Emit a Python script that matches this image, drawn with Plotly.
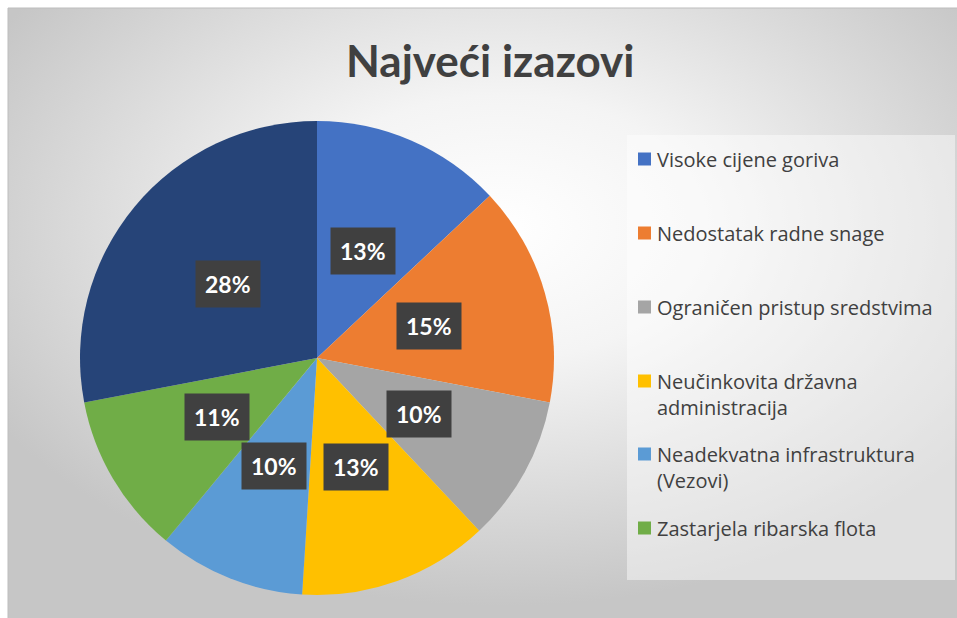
import math
import base64
import plotly.graph_objects as go

# ---- data ----
categories = [
    "Visoke cijene goriva",
    "Nedostatak radne snage",
    "Ograničen pristup sredstvima",
    "Neučinkovita državna administracija",
    "Neadekvatna infrastruktura (Vezovi)",
    "Zastarjela ribarska flota",
    "Ostalo",
]
legend_labels = [
    "Visoke cijene goriva",
    "Nedostatak radne snage",
    "Ograničen pristup sredstvima",
    "Neučinkovita državna<br>administracija",
    "Neadekvatna infrastruktura<br>(Vezovi)",
    "Zastarjela ribarska flota",
]
values = [13, 15, 10, 13, 10, 11, 28]
colors = ["#4472C4", "#ED7D31", "#A5A5A5", "#FFC000", "#5B9BD5", "#70AD47", "#264478"]
title_text = "Najveći izazovi"

W, H = 957, 618
FONT = "Lato"
LEG_FONT = "Open Sans"

# pie geometry (pixels)
cx, cy, R = 317, 358, 237
dom_x = [(cx - R) / W, (cx + R) / W]
dom_y = [1 - (cy + R) / H, 1 - (cy - R) / H]

fig = go.Figure()
fig.add_trace(go.Pie(
    labels=categories,
    values=values,
    marker=dict(colors=colors, line=dict(width=0)),
    sort=False,
    direction="clockwise",
    rotation=0,
    textinfo="none",
    hoverinfo="label+percent",
    showlegend=False,
    domain=dict(x=dom_x, y=dom_y),
))

annotations = []
shapes = []

# background gradient image
svg = (
    "<svg xmlns='http://www.w3.org/2000/svg' width='949' height='610' preserveAspectRatio='none'>"
    "<defs><radialGradient id='g' cx='52%' cy='36%' r='62%'>"
    "<stop offset='0' stop-color='#ffffff'/>"
    "<stop offset='0.35' stop-color='#f4f4f4'/>"
    "<stop offset='1' stop-color='#c6c6c6'/>"
    "</radialGradient></defs>"
    "<rect width='100%' height='100%' fill='url(#g)'/></svg>"
)
src = "data:image/svg+xml;base64," + base64.b64encode(svg.encode()).decode()
images = [dict(source=src, xref="paper", yref="paper", x=8 / W, y=1 - 8 / H,
               sizex=(W - 8) / W, sizey=(H - 8) / H, sizing="stretch",
               xanchor="left", yanchor="top", layer="below")]

# chart border
shapes.append(dict(type="rect", xref="paper", yref="paper", x0=8 / W, x1=1.01, y0=-0.01, y1=1 - 8 / H,
                   line=dict(color="#bdbdbd", width=1), fillcolor="rgba(0,0,0,0)", layer="below"))

# data labels
total = sum(values)
cum = 0
for v in values:
    mid = (cum + v / 2) / total
    cum += v
    th = 2 * math.pi * mid
    px = cx + 0.49 * R * math.sin(th)
    py = cy - 0.49 * R * math.cos(th)
    pct = f"{round(100 * v / total)}%"
    annotations.append(dict(x=px / W, y=1 - py / H, xref="paper", yref="paper",
                            xanchor="center", yanchor="middle",
                            text=f"<b>{pct}</b>", showarrow=False,
                            font=dict(family=FONT, size=23, color="white"),
                            bgcolor="#404040", borderpad=9))

# legend box
shapes.append(dict(type="rect", xref="paper", yref="paper", x0=627 / W, x1=955 / W,
                   y0=1 - 580 / H, y1=1 - 135 / H, line=dict(width=0),
                   fillcolor="rgba(255,255,255,0.45)", layer="below"))

legend_rows = [159, 233, 307, 381, 454, 528]
for lab, col, yy in zip(legend_labels, colors, legend_rows):
    shapes.append(dict(type="rect", xref="paper", yref="paper", x0=638 / W, x1=651 / W,
                       y0=1 - (yy + 6.5) / H, y1=1 - (yy - 6.5) / H,
                       line=dict(width=0), fillcolor=col))
    annotations.append(dict(x=655 / W, y=1 - (yy - 15) / H, xref="paper", yref="paper",
                            text=lab, showarrow=False, xanchor="left", yanchor="top", align="left",
                            font=dict(family=LEG_FONT, size=20, color="#404040")))

# title
annotations.append(dict(x=490 / W, y=1 - 60 / H, xref="paper", yref="paper",
                        xanchor="center", yanchor="middle",
                        text=f"<b>{title_text}</b>", showarrow=False,
                        font=dict(family=FONT, size=44, color="#404040")))

fig.update_layout(
    width=W, height=H,
    margin=dict(l=0, r=0, t=0, b=0),
    paper_bgcolor="white",
    plot_bgcolor="rgba(0,0,0,0)",
    images=images,
    shapes=shapes,
    annotations=annotations,
    showlegend=False,
)

fig.write_html("out.html", config={"displayModeBar": False},
               post_script="document.body.style.margin='0';")
